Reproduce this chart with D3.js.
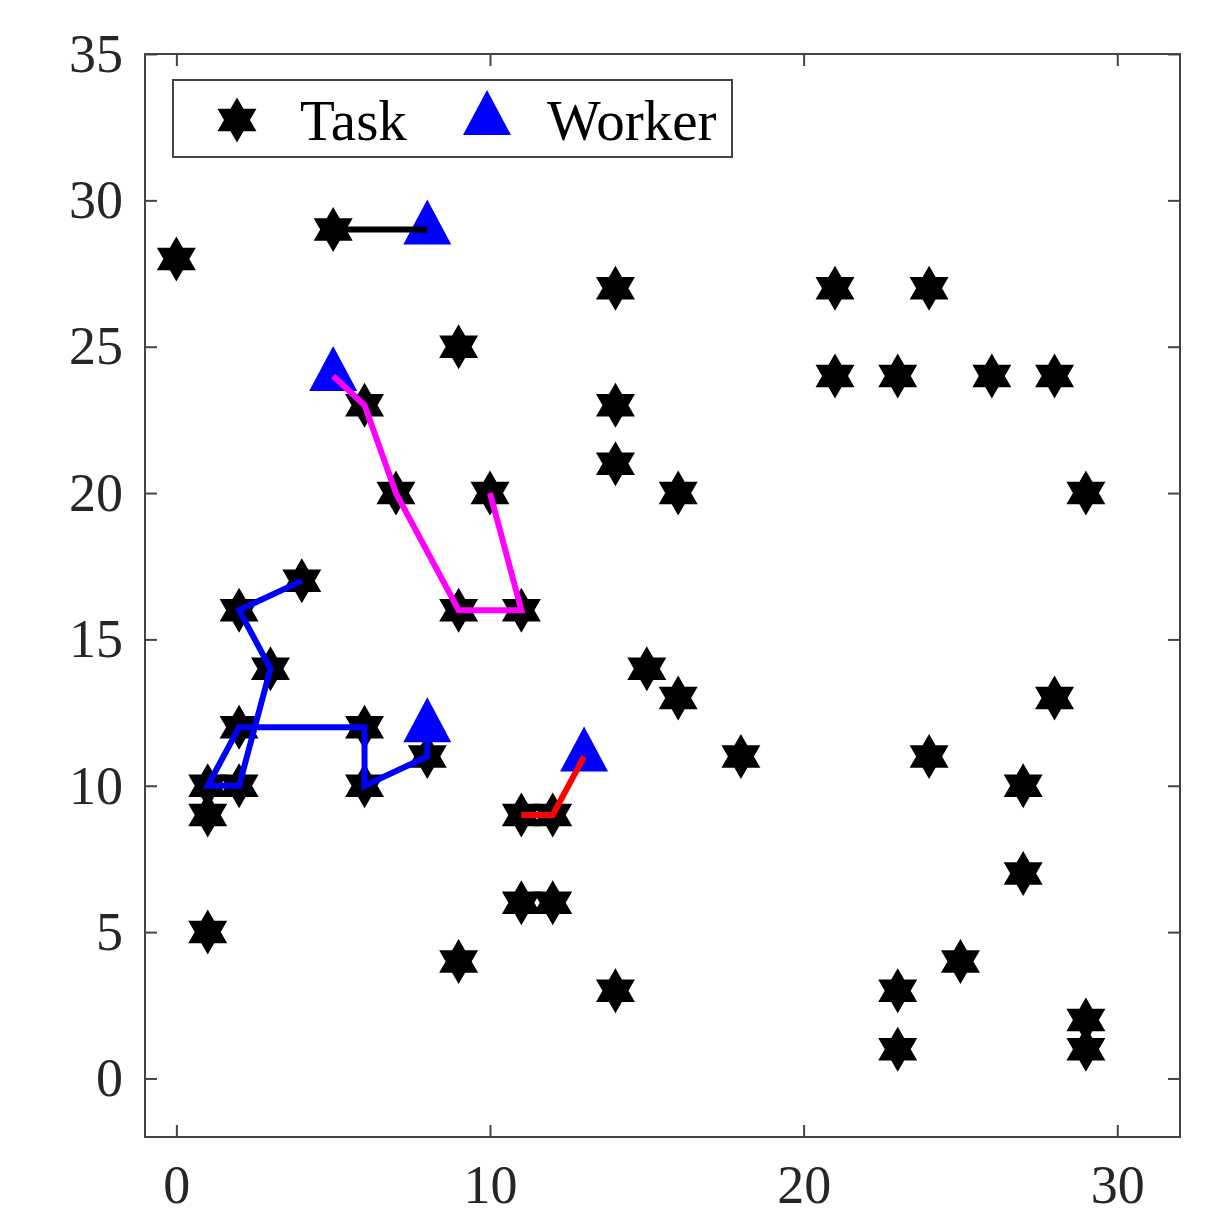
<!DOCTYPE html>
<html>
<head>
<meta charset="utf-8">
<script src="https://cdn.jsdelivr.net/npm/d3@7"></script>
<style>
  body { margin: 0; background: #fff; }
  text { font-family: "Liberation Serif", "Times New Roman", serif; }
</style>
</head>
<body>
<div id="chart"></div>
<script>
// task locations
var taskX = [0, 5, 9, 14, 21, 24, 21, 23, 26, 28, 6, 14, 14, 7, 10, 16, 29, 4, 2, 9, 11, 3, 15, 16, 28, 2, 6, 8, 18, 24, 1, 2, 6, 27, 1, 11, 12, 27, 11, 12, 1, 9, 25, 14, 23, 29, 23, 29];
var taskY = [28, 29, 25, 27, 27, 27, 24, 24, 24, 24, 23, 23, 21, 20, 20, 20, 20, 17, 16, 16, 16, 14, 14, 13, 13, 12, 12, 11, 11, 11, 10, 10, 10, 10, 9, 9, 9, 7, 6, 6, 5, 4, 4, 3, 3, 2, 1, 1];
// worker locations
var workerX = [8, 5, 8, 13];
var workerY = [29, 24, 12, 11];
// routes (worker first)
var routeColors = ['#000000', '#ff00ff', '#0000ff', '#ff0000'];
var routeX = [
  [8, 5],
  [5, 6, 7, 9, 11, 10],
  [8, 8, 6, 6, 2, 1, 2, 3, 2, 4],
  [13, 12, 11]
];
var routeY = [
  [29, 29],
  [24, 23, 20, 16, 16, 20],
  [12, 11, 10, 12, 12, 10, 10, 14, 16, 17],
  [11, 9, 9]
];
var xTicks = [0, 10, 20, 30];
var yTicks = [0, 5, 10, 15, 20, 25, 30, 35];

var W = 1217, H = 1209;
var margin = { top: 54, right: 37, bottom: 72, left: 145 };
var iw = W - margin.left - margin.right,
    ih = H - margin.top - margin.bottom;

var svg = d3.select('#chart').append('svg')
    .attr('width', W)
    .attr('height', H);

var g = svg.append('g')
    .attr('transform', 'translate(' + margin.left + ',' + margin.top + ')');

var x = d3.scaleLinear().domain([-1, 32]).range([0, iw]);
var y = d3.scaleLinear().domain([-2, 35]).range([ih, 0]);

var axisColor = '#444';
var tickLen = 12;

// frame
g.append('rect')
    .attr('width', iw).attr('height', ih)
    .attr('fill', 'none')
    .attr('stroke', axisColor)
    .attr('stroke-width', 2);

function styleAxis(sel) {
    sel.select('.domain').remove();
    sel.selectAll('line').attr('stroke', axisColor).attr('stroke-width', 2);
    sel.selectAll('text')
        .attr('fill', '#262626')
        .style('font-size', '54px')
        .style('font-family', '"Liberation Serif", "Times New Roman", serif');
}

g.append('g').attr('transform', 'translate(0,' + ih + ')')
    .call(d3.axisBottom(x).tickValues(xTicks).tickSize(-tickLen).tickPadding(28).tickFormat(d3.format('d')))
    .call(styleAxis);
g.append('g')
    .call(d3.axisTop(x).tickValues(xTicks).tickSize(-tickLen).tickFormat(''))
    .call(styleAxis);
g.append('g')
    .call(d3.axisLeft(y).tickValues(yTicks).tickSize(-tickLen).tickPadding(22).tickFormat(d3.format('d')))
    .call(styleAxis);
g.append('g').attr('transform', 'translate(' + iw + ',0)')
    .call(d3.axisRight(y).tickValues(yTicks).tickSize(-tickLen).tickFormat(''))
    .call(styleAxis);

// six-pointed star
function hexagram(r) {
    var pts = [];
    for (var k = 0; k < 12; k++) {
        var a = (-90 + k * 30) * Math.PI / 180;
        var rr = k % 2 === 0 ? r : r / Math.sqrt(3);
        pts.push([rr * Math.cos(a), rr * Math.sin(a)]);
    }
    return 'M' + pts.map(function (p) { return p.join(','); }).join('L') + 'Z';
}
function triangle(w, h) {
    // centroid at origin
    return 'M0,' + (-2 * h / 3) + 'L' + (w / 2) + ',' + (h / 3) + 'L' + (-w / 2) + ',' + (h / 3) + 'Z';
}

var plot = g.append('g');

plot.selectAll('path.task')
    .data(d3.range(taskX.length))
    .enter().append('path')
    .attr('class', 'task')
    .attr('d', hexagram(22.5))
    .attr('transform', function (i) { return 'translate(' + x(taskX[i]) + ',' + y(taskY[i]) + ')'; })
    .attr('fill', '#000');

plot.selectAll('path.worker')
    .data(d3.range(workerX.length))
    .enter().append('path')
    .attr('class', 'worker')
    .attr('d', triangle(48, 45))
    .attr('transform', function (i) { return 'translate(' + x(workerX[i]) + ',' + y(workerY[i]) + ')'; })
    .attr('fill', '#0000ff');

var line = d3.line()
    .x(function (d) { return x(d[0]); })
    .y(function (d) { return y(d[1]); });

plot.selectAll('path.route')
    .data(d3.range(routeX.length))
    .enter().append('path')
    .attr('class', 'route')
    .attr('d', function (i) { return line(d3.zip(routeX[i], routeY[i])); })
    .attr('fill', 'none')
    .attr('stroke', function (i) { return routeColors[i]; })
    .attr('stroke-width', 6);

// legend
var lg = svg.append('g');
lg.append('rect')
    .attr('x', 173).attr('y', 80)
    .attr('width', 559).attr('height', 77)
    .attr('fill', '#fff')
    .attr('stroke', axisColor)
    .attr('stroke-width', 2);
lg.append('path')
    .attr('d', hexagram(22.5))
    .attr('transform', 'translate(237,120)')
    .attr('fill', '#000');
lg.append('text')
    .attr('x', 300).attr('y', 140)
    .style('font-size', '57px')
    .attr('fill', '#000')
    .text('Task');
lg.append('path')
    .attr('d', triangle(48, 45))
    .attr('transform', 'translate(487,120)')
    .attr('fill', '#0000ff');
lg.append('text')
    .attr('x', 547).attr('y', 140)
    .style('font-size', '57px')
    .attr('fill', '#000')
    .text('Worker');
</script>
</body>
</html>
